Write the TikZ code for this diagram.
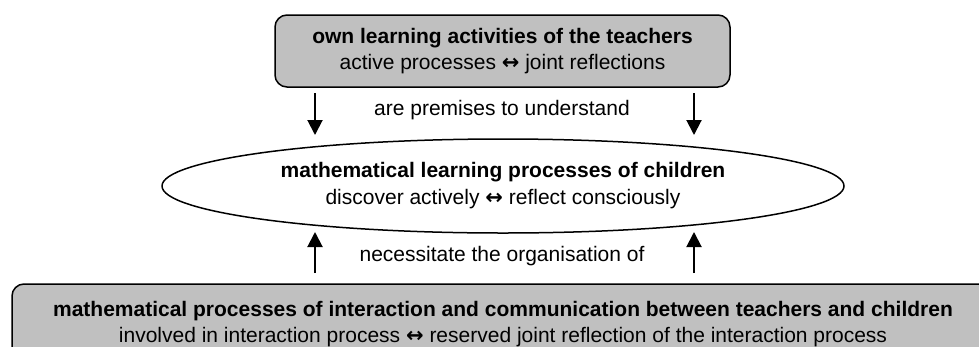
\documentclass[tikz,border=0pt]{standalone}
\usepackage{fontspec}
\setmainfont{Liberation Sans}
\newfontfamily\symfont{DejaVu Sans}
\newcommand\lrarrow{{\symfont\bfseries ↔}}
\usetikzlibrary{shapes.geometric,arrows.meta}
\definecolor{boxgray}{RGB}{192,192,192}
\begin{document}
\begin{tikzpicture}[x=1pt, y=-1pt, line join=round, >={Triangle[width=15pt,length=15pt]},
		font=\fontsize{21}{26}\selectfont,
		box/.style={draw, line width=1.5pt, fill=boxgray, rounded corners=12pt, align=center, inner sep=0pt},
		link/.style={->, line width=2pt}]
	\clip (0,0) rectangle (979,346);
	
	\node[box, minimum width=455pt, minimum height=72pt] (own) at (502.5,51)
	{\textbf{own learning activities of the teachers}\\active processes \lrarrow{} joint reflections};
	\node[draw, ellipse, line width=1.5pt, minimum width=682pt, minimum height=94pt, inner sep=0pt, align=center] (kids) at (503,186)
	{\textbf{mathematical learning processes of children}\\[1pt]discover actively \lrarrow{} reflect consciously};
	\node[box, minimum width=982pt, minimum height=80pt] (inter) at (503,324)
	{\textbf{mathematical processes of interaction and communication between teachers and children}\\involved in interaction process \lrarrow{} reserved joint reflection of the interaction process};
	
	\path (315,93) coordinate (d1) (315,135) coordinate (e1)
	(694,93) coordinate (d2) (694,135) coordinate (e2)
	(315,273) coordinate (u1) (315,232) coordinate (v1)
	(694,273) coordinate (u2) (694,232) coordinate (v2);
	
	\foreach \a/\b in {d1/e1, d2/e2, u1/v1, u2/v2}
	\draw[link] (\a) -- (\b);
	
	\node (prem) at (502,110) {are premises to understand};
	\node (nec) at (502,256) {necessitate the organisation of};
\end{tikzpicture}
\end{document}
